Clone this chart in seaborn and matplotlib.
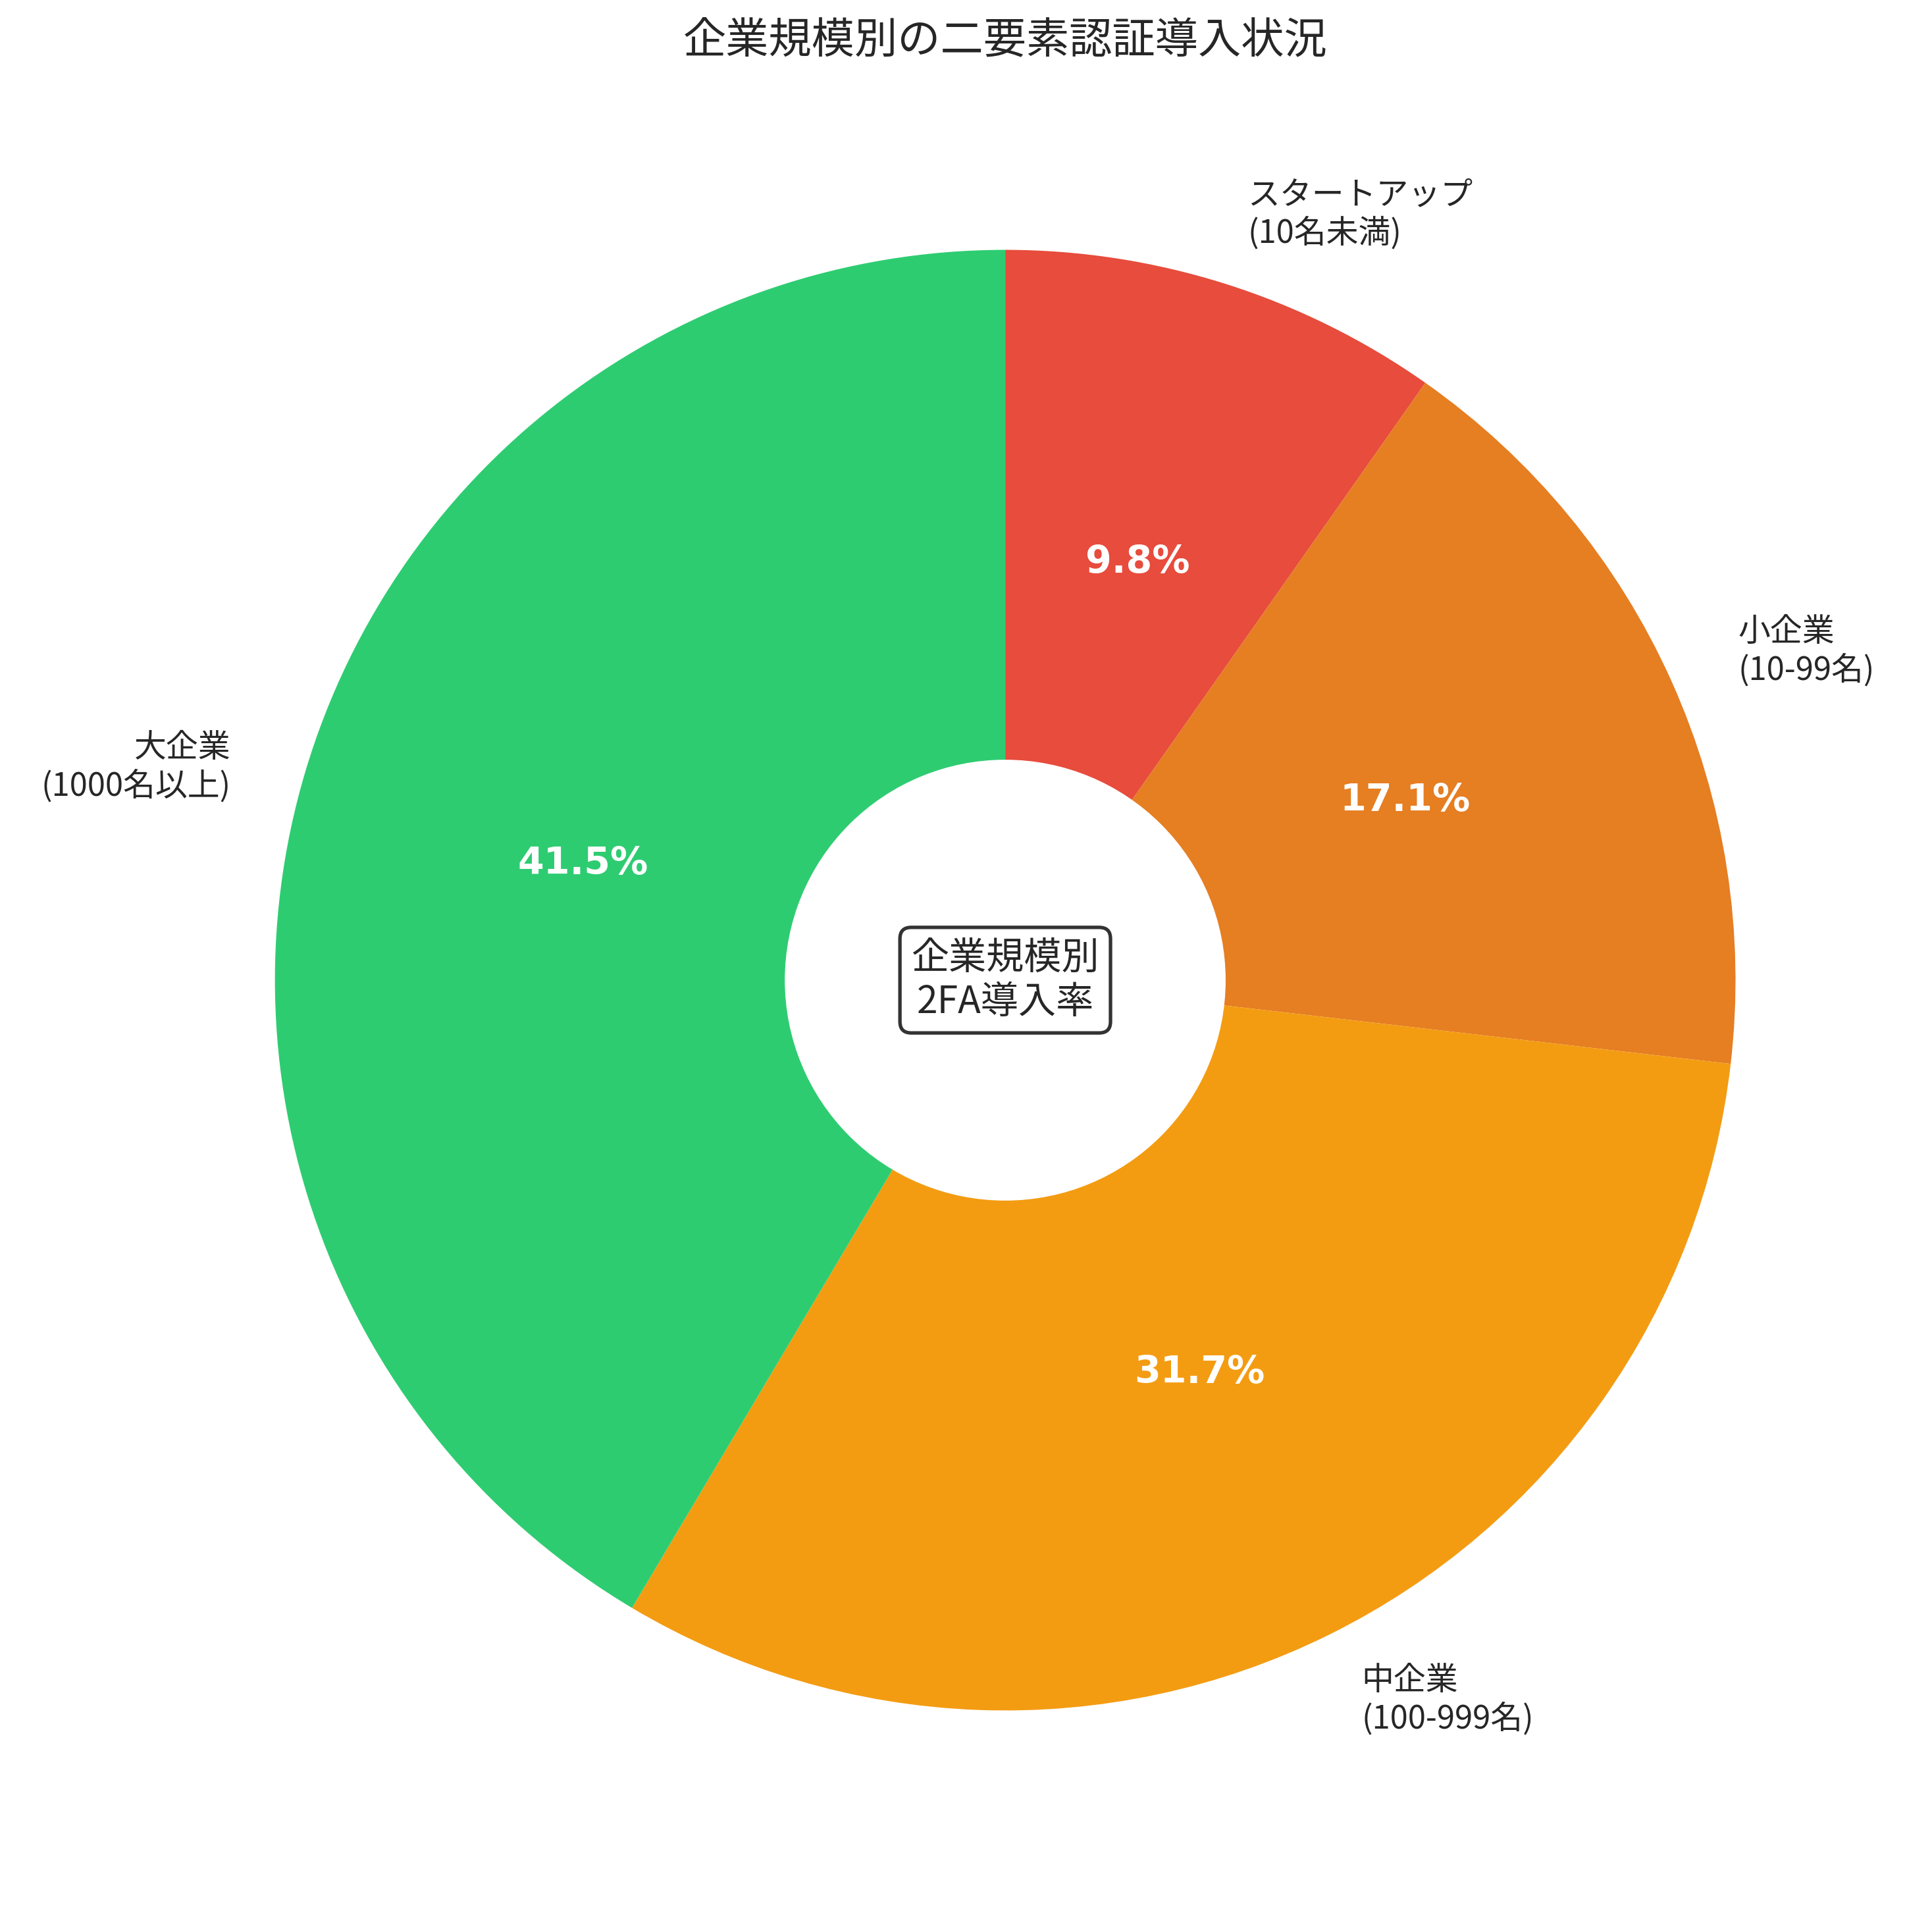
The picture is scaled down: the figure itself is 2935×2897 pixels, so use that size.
import matplotlib
matplotlib.use("Agg")
import matplotlib.pyplot as plt
import seaborn as sns

sns.set_style("white")
plt.rcParams["font.family"] = ["Noto Sans CJK JP", "DejaVu Sans"]

# adoption rate by company size (relative shares)
categories = ["スタートアップ\n(10名未満)", "小企業\n(10-99名)", "中企業\n(100-999名)", "大企業\n(1000名以上)"]
values = [20, 35, 65, 85]
colors = ["#e74c3c", "#e67e22", "#f39c12", "#2ecc71"]

fig = plt.figure(figsize=(10, 9.871))
ax = fig.add_axes([0.0478, 0.007, 0.945, 0.958])

wedges, texts, autotexts = ax.pie(
    values,
    labels=categories,
    colors=colors,
    autopct="%1.1f%%",
    startangle=90,
    counterclock=False,
    pctdistance=0.6,
    labeldistance=1.1,
    wedgeprops={"linewidth": 0},
    textprops={"fontsize": 12},
)

for t in autotexts:
    t.set_color("white")
    t.set_fontweight("bold")
    t.set_fontsize(14)
    t.set_family("DejaVu Sans")

centre = plt.Circle((0, 0), 0.3, fc="white")
ax.add_artist(centre)

ax.text(
    0, 0, "企業規模別\n2FA導入率",
    ha="center", va="center", fontsize=14,
    bbox=dict(boxstyle="round,pad=0.3", facecolor="white", edgecolor="#333333", linewidth=1.3),
)

ax.set_xlim(-1.25, 1.25)
ax.set_ylim(-1.25, 1.25)
ax.set_aspect("equal")

fig.suptitle("企業規模別の二要素認証導入状況", fontsize=16, x=0.5204, y=0.9786, va="center")

plt.savefig("out.png", dpi=293.5)
